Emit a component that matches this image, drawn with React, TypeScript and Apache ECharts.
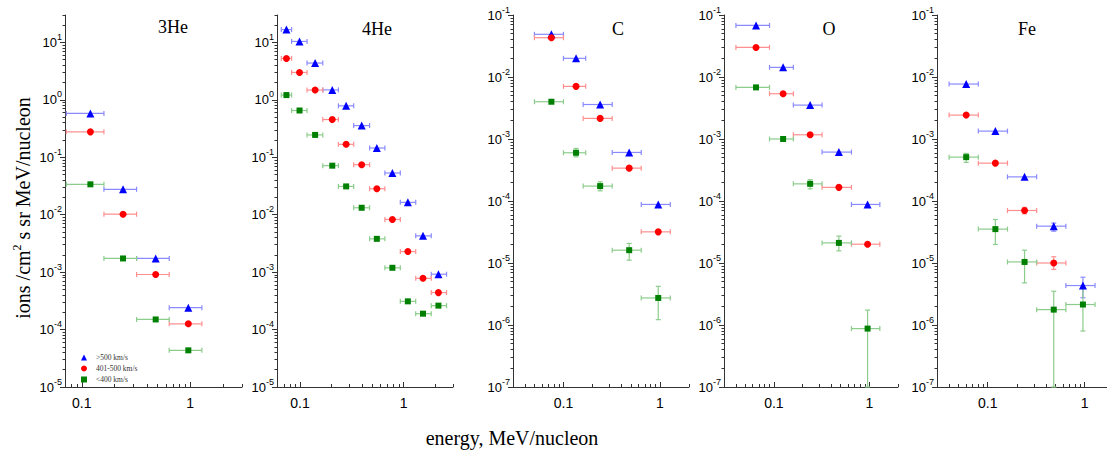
import React, { useEffect, useRef } from "react";
import * as echarts from "echarts";

const speedNames = [">500 km/s", "401-500 km/s", "<400 km/s"];
const panelTitles = ["3He", "4He", "C", "O", "Fe"];

// ---------- 3He ----------
const he3Energy = [0.12, 0.24, 0.48, 0.96];
const he3BinLow = [0.072, 0.16, 0.32, 0.64];
const he3BinHigh = [0.16, 0.32, 0.64, 1.28];
const he3Fast = [0.58, 0.0277, 1.73e-3, 2.41e-4];
const he3Mid = [0.277, 0.0102, 9.1e-4, 1.26e-4];
const he3Slow = [0.0338, 1.73e-3, 1.5e-4, 4.35e-5];

// ---------- 4He ----------
const he4Energy = [0.074, 0.099, 0.14, 0.205, 0.279, 0.394, 0.552, 0.78, 1.1, 1.54, 2.17];
const he4BinLow = [0.066, 0.083, 0.117, 0.166, 0.235, 0.33, 0.47, 0.66, 0.93, 1.31, 1.85];
const he4BinHigh = [0.083, 0.117, 0.166, 0.235, 0.33, 0.47, 0.66, 0.93, 1.31, 1.85, 2.6];
const he4Fast = [16.7, 10.4, 4.37, 1.49, 0.786, 0.356, 0.145, 0.0532, 0.0164, 4.28e-3, 9.2e-4];
const he4Mid = [5.26, 3.0, 1.48, 0.454, 0.168, 0.0743, 0.0283, 8.27e-3, 2.28e-3, 7.8e-4, 4.4e-4];
const he4Slow = [1.21, 0.652, 0.245, 0.0714, 0.0311, 0.0132, 3.8e-3, 1.19e-3, 3.1e-4, 1.89e-4, 2.61e-4];

// ---------- C ----------
const cEnergy = [0.075, 0.135, 0.24, 0.48, 0.96];
const cBinLow = [0.05, 0.1, 0.16, 0.32, 0.64];
const cBinHigh = [0.1, 0.17, 0.32, 0.64, 1.28];
const cFast = [0.0488, 0.02, 3.6e-3, 6.07e-4, 8.8e-5];
const cMid = [0.043, 7.06e-3, 2.15e-3, 3.39e-4, 3.18e-5];
const cSlow = [3.99e-3, 6.0e-4, 1.74e-4, 1.61e-5, 2.73e-6];
const cSlowErrLow = [null, 5.16e-4, 1.46e-4, 1.11e-5, 1.22e-6];
const cSlowErrHigh = [null, 7.05e-4, 2.04e-4, 2.07e-5, 4.2e-6];

// ---------- O ----------
const oEnergy = [0.065, 0.125, 0.24, 0.48, 0.96];
const oBinLow = [0.04, 0.09, 0.16, 0.32, 0.65];
const oBinHigh = [0.09, 0.16, 0.32, 0.65, 1.29];
const oFast = [0.068, 0.0143, 3.52e-3, 6.15e-4, 8.8e-5];
const oMid = [0.03, 5.37e-3, 1.17e-3, 1.66e-4, 2.01e-5];
const oSlow = [6.8e-3, 1.0e-3, 1.89e-4, 2.11e-5, 8.75e-7];
const oSlowErrLow = [null, null, 1.57e-4, 1.57e-5, 1e-7];
const oSlowErrHigh = [null, null, 2.2e-4, 2.71e-5, 1.74e-6];

// ---------- Fe ----------
const feEnergy = [0.06, 0.12, 0.24, 0.48, 0.96];
const feBinLow = [0.04, 0.08, 0.16, 0.32, 0.64];
const feBinHigh = [0.08, 0.16, 0.32, 0.64, 1.28];
const feFast = [7.7e-3, 1.34e-3, 2.45e-4, 3.93e-5, 4.33e-6];
const feFastErrLow = [null, null, null, 3.26e-5, 2.75e-6];
const feFastErrHigh = [null, null, null, 4.4e-5, 5.9e-6];
const feMid = [2.43e-3, 4.08e-4, 7.03e-5, 1.0e-5, null];
const feMidErrLow = [null, null, 6.2e-5, 7.9e-6, null];
const feMidErrHigh = [null, null, 7.9e-5, 1.26e-5, null];
const feSlow = [5.1e-4, 3.52e-5, 1.04e-5, 1.77e-6, 2.14e-6];
const feSlowErrLow = [4.2e-4, 1.99e-5, 4.78e-6, 1e-7, 8.0e-7];
const feSlowErrHigh = [5.86e-4, 5.03e-5, 1.61e-5, 3.5e-6, 4.0e-6];

// axis ranges
const xRanges = [[0.07, 3], [0.06, 3], [0.03, 2], [0.03, 2], [0.03, 1.7]];
const yRanges = [[1e-5, 30], [1e-5, 30], [1e-7, 0.1], [1e-7, 0.1], [1e-7, 0.1]];

type Sp = { values: (number | null)[]; errLow?: (number | null)[]; errHigh?: (number | null)[] };
type Panel = { energy: number[]; binLow: number[]; binHigh: number[]; series: Sp[] };

const panels: Panel[] = [
  { energy: he3Energy, binLow: he3BinLow, binHigh: he3BinHigh, series: [{ values: he3Fast }, { values: he3Mid }, { values: he3Slow }] },
  { energy: he4Energy, binLow: he4BinLow, binHigh: he4BinHigh, series: [{ values: he4Fast }, { values: he4Mid }, { values: he4Slow }] },
  { energy: cEnergy, binLow: cBinLow, binHigh: cBinHigh, series: [{ values: cFast }, { values: cMid }, { values: cSlow, errLow: cSlowErrLow, errHigh: cSlowErrHigh }] },
  { energy: oEnergy, binLow: oBinLow, binHigh: oBinHigh, series: [{ values: oFast }, { values: oMid }, { values: oSlow, errLow: oSlowErrLow, errHigh: oSlowErrHigh }] },
  {
    energy: feEnergy, binLow: feBinLow, binHigh: feBinHigh, series: [
      { values: feFast, errLow: feFastErrLow, errHigh: feFastErrHigh },
      { values: feMid, errLow: feMidErrLow, errHigh: feMidErrHigh },
      { values: feSlow, errLow: feSlowErrLow, errHigh: feSlowErrHigh },
    ]
  },
];

// layout (pixels)
const gridLefts = [65, 277, 513, 724, 937];
const gridWidths = [177, 176, 176, 174, 170];
const gridTop = 15;
const gridHeight = 372;
const titlePos = [[173, 27], [377, 29], [618, 29], [829, 29], [1027, 29]];

const markerColors = ["#0000ff", "#ff0000", "#008000"];
const barColors = ["#8a8aff", "#ff8f8f", "#8ccc8c"];
const symbols = ["triangle", "circle", "rect"];
const symbolSizes = [8, 7, 6];

function powersIn(min: number, max: number) {
  const out: number[] = [];
  for (let e = -9; e <= 3; e++) {
    const v = Math.pow(10, e);
    if (v >= min * 0.999 && v <= max * 1.001) out.push(Number(v.toPrecision(6)));
  }
  return out;
}
function minorsIn(min: number, max: number) {
  const out: number[] = [];
  for (let e = -9; e <= 3; e++) {
    for (let m = 2; m <= 9; m++) {
      const v = Number((m * Math.pow(10, e)).toPrecision(6));
      if (v >= min * 0.999 && v <= max * 1.001) out.push(v);
    }
  }
  return out;
}

const axisColor = "#333";

export default function App() {
  const ref = useRef<HTMLDivElement>(null);
  useEffect(() => {
    if (!ref.current) return;
    const chart = echarts.init(ref.current, undefined, { renderer: "svg" });

    const grid: any[] = [];
    const xAxis: any[] = [];
    const yAxis: any[] = [];
    const series: any[] = [];
    const graphic: any[] = [];

    panels.forEach((p, pi) => {
      grid.push({ left: gridLefts[pi], top: gridTop, width: gridWidths[pi], height: gridHeight, containLabel: false });
      const [xmin, xmax] = xRanges[pi];
      const [ymin, ymax] = yRanges[pi];
      xAxis.push({
        type: "log", gridIndex: pi, min: xmin, max: xmax, position: "bottom",
        axisLine: { show: true, lineStyle: { color: axisColor, width: 1 } },
        axisTick: { show: true, inside: true, length: 5, customValues: powersIn(xmin, xmax), lineStyle: { color: axisColor } },
        axisLabel: {
          customValues: powersIn(xmin, xmax),
          formatter: (v: number) => (v >= 1 ? "1" : "0.1"),
          fontSize: 14, fontFamily: "Liberation Sans", color: "#000", margin: 9,
        },
        splitLine: { show: false },
      });
      xAxis.push({
        type: "log", gridIndex: pi, min: xmin, max: xmax, position: "top", offset: -gridHeight,
        axisLine: { show: false },
        axisTick: { show: true, inside: false, length: 3, customValues: minorsIn(xmin, xmax), lineStyle: { color: axisColor } },
        axisLabel: { show: false },
        splitLine: { show: false },
      });
      yAxis.push({
        type: "log", gridIndex: pi, min: ymin, max: ymax, position: "left",
        axisLine: { show: true, lineStyle: { color: axisColor, width: 1 } },
        axisTick: { show: true, inside: false, length: 5, customValues: powersIn(ymin, ymax), lineStyle: { color: axisColor } },
        axisLabel: {
          customValues: powersIn(ymin, ymax),
          formatter: (v: number) => `10{e|${Math.round(Math.log10(v))}}`,
          fontSize: 13, lineHeight: 20, fontFamily: "Liberation Sans", color: "#000", margin: 3,
          rich: { e: { fontSize: 9, lineHeight: 9, verticalAlign: "top", fontFamily: "Liberation Sans", color: "#000" } },
        },
        splitLine: { show: false },
      });
      yAxis.push({
        type: "log", gridIndex: pi, min: ymin, max: ymax, position: "right", offset: -gridWidths[pi],
        axisLine: { show: false },
        axisTick: { show: true, inside: true, length: 2.5, customValues: minorsIn(ymin, ymax), lineStyle: { color: axisColor } },
        axisLabel: { show: false },
        splitLine: { show: false },
      });

      p.series.forEach((sp, si) => {
        const items: any[] = [];
        sp.values.forEach((v, i) => {
          if (v == null) return;
          items.push({
            x: p.energy[i], y: v, lo: p.binLow[i], hi: p.binHigh[i],
            elo: sp.errLow ? sp.errLow[i] : null, ehi: sp.errHigh ? sp.errHigh[i] : null,
          });
        });
        const data = items.map((it) => [it.x, it.y]);
        const bc = barColors[si];
        series.push({
          type: "custom",
          xAxisIndex: pi * 2, yAxisIndex: pi * 2,
          data,
          z: 2,
          renderItem: (params: any, api: any) => {
            const it = items[params.dataIndex];
            const c = api.coord([it.x, it.y]);
            const l = api.coord([it.lo, it.y]);
            const h = api.coord([it.hi, it.y]);
            const style = { stroke: bc, lineWidth: 1.2, fill: null };
            const children: any[] = [
              { type: "line", shape: { x1: l[0], y1: c[1], x2: h[0], y2: c[1] }, style },
              { type: "line", shape: { x1: l[0], y1: c[1] - 2.5, x2: l[0], y2: c[1] + 2.5 }, style },
              { type: "line", shape: { x1: h[0], y1: c[1] - 2.5, x2: h[0], y2: c[1] + 2.5 }, style },
            ];
            if (it.elo != null && it.ehi != null) {
              const a = api.coord([it.x, it.elo]);
              const b = api.coord([it.x, it.ehi]);
              children.push(
                { type: "line", shape: { x1: c[0], y1: a[1], x2: c[0], y2: b[1] }, style },
                { type: "line", shape: { x1: c[0] - 2.5, y1: a[1], x2: c[0] + 2.5, y2: a[1] }, style },
                { type: "line", shape: { x1: c[0] - 2.5, y1: b[1], x2: c[0] + 2.5, y2: b[1] }, style },
              );
            }
            return { type: "group", children };
          },
        });
        series.push({
          type: "scatter",
          name: speedNames[si],
          xAxisIndex: pi * 2, yAxisIndex: pi * 2,
          data,
          symbol: symbols[si],
          symbolSize: symbolSizes[si],
          itemStyle: { color: markerColors[si], opacity: 1 },
          z: 3,
        });
      });

      graphic.push({
        type: "text", x: titlePos[pi][0], y: titlePos[pi][1],
        style: { text: panelTitles[pi], fontSize: 18, fontFamily: "Liberation Serif", fill: "#000", align: "center", verticalAlign: "middle" },
      });
    });

    graphic.push({
      type: "text", x: 23, y: 208, rotation: Math.PI / 2,
      style: {
        text: "ions /cm{s|2} s sr MeV/nucleon",
        fontSize: 20, lineHeight: 24, fontFamily: "Liberation Serif", fill: "#000",
        align: "center", verticalAlign: "middle",
        rich: { s: { fontSize: 12, lineHeight: 12, verticalAlign: "top", fontFamily: "Liberation Serif", fill: "#000" } },
      },
    });
    graphic.push({
      type: "text", x: 512, y: 438,
      style: { text: "energy, MeV/nucleon", fontSize: 20, fontFamily: "Liberation Serif", fill: "#000", align: "center", verticalAlign: "middle" },
    });

    chart.setOption({
      animation: false,
      backgroundColor: "#fff",
      grid, xAxis, yAxis, series, graphic,
      legend: {
        data: speedNames,
        orient: "vertical",
        left: 81, top: 353,
        padding: 0,
        itemWidth: 6, itemHeight: 6, itemGap: 2,
        selectedMode: false,
        textStyle: { fontSize: 7.5, lineHeight: 9, fontFamily: "Liberation Serif", color: "#333", padding: [0, 0, 0, 4] },
      },
    });
    return () => chart.dispose();
  }, []);
  return <div ref={ref} style={{ position: "absolute", left: 0, top: 0, width: 1107, height: 453 }} />;
}
